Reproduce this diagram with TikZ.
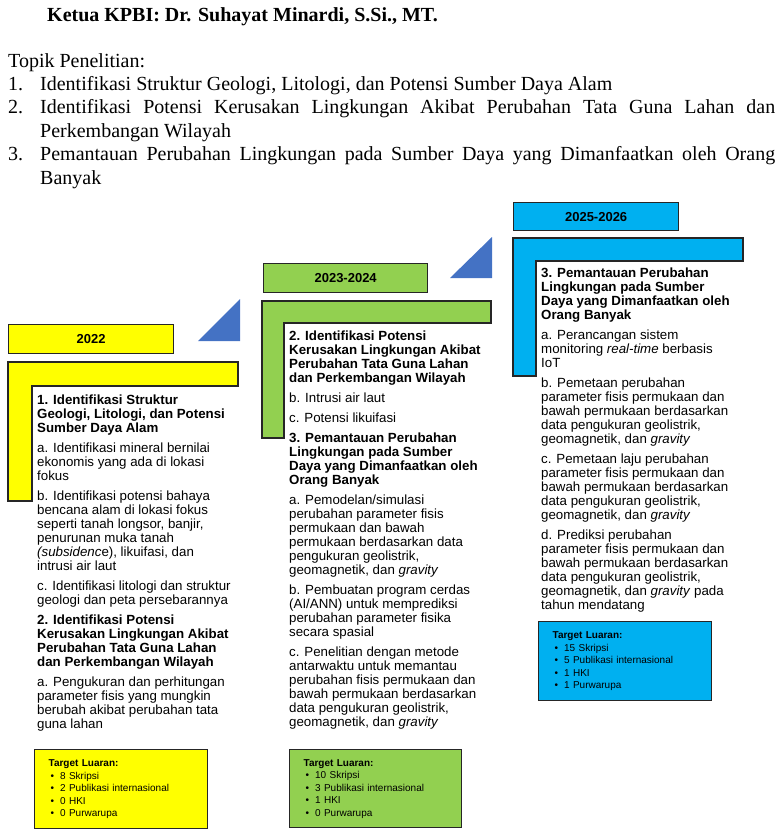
\documentclass[tikz,border=0pt]{standalone}
\usepackage{fontspec}
\setmainfont{Liberation Serif}
\newfontfamily\arial{Liberation Sans}
\usepackage{tikz}

\definecolor{kuning}{HTML}{FFFF00}
\definecolor{hijau}{HTML}{92D050}
\definecolor{biru}{HTML}{00B0F0}
\definecolor{panah}{HTML}{4472C4}

\tikzset{
  topik/.style={anchor=base west, inner sep=0pt, font=\fontsize{20}{23.5}\selectfont},
  tahun/.style={draw=black!85, line width=1.3pt, anchor=north west, inner sep=0pt,
    font=\arial\fontsize{13}{15}\selectfont\bfseries},
  bingkai/.style={draw=black!85, line width=1.3pt},
  isi/.style={anchor=north west, inner sep=0pt, align=left,
    font=\arial\fontsize{13.3}{14}\selectfont},
  luaran/.style={draw=black!85, line width=1.3pt, anchor=north west, inner xsep=14pt,
    inner ysep=0pt, text width=145pt, align=left,
    font=\arial\fontsize{10}{12.5}\selectfont},
  segitiga/.style={fill=panah}
}
\newcommand{\butir}[1]{\\\hspace*{2pt}\textbullet\hspace{6pt}#1}

\begin{document}
\begin{tikzpicture}[x=1pt, y=-1pt]
\useasboundingbox (0,0) rectangle (783,835);

% judul dan topik
\node[anchor=base west, inner sep=0pt, font=\fontsize{20}{24}\selectfont\bfseries] (ketua) at (47,21) {Ketua KPBI: Dr. Suhayat Minardi, S.Si., MT.};
\node[topik] (topikjudul) at (8,67) {Topik Penelitian:};
\node[topik] (no1) at (8,90) {1.};
\node[topik] (topik1) at (40,90) {Identifikasi Struktur Geologi, Litologi, dan Potensi Sumber Daya Alam};
\node[topik] (no2) at (8,113.5) {2.};
\node[topik] (topik2) at (40,113.5) {\makebox[735pt][s]{Identifikasi Potensi Kerusakan Lingkungan Akibat Perubahan Tata Guna Lahan dan}};
\node[topik] (topik2b) at (40,137) {Perkembangan Wilayah};
\node[topik] (no3) at (8,160.5) {3.};
\node[topik] (topik3) at (40,160.5) {\makebox[735pt][s]{Pemantauan Perubahan Lingkungan pada Sumber Daya yang Dimanfaatkan oleh Orang}};
\node[topik] (topik3b) at (40,184) {Banyak};

% panah segitiga
\fill[segitiga] (198,341) -- (240,341) -- (240,299) -- cycle;
\fill[segitiga] (450,278) -- (492,278) -- (492,237) -- cycle;

% 2022
\node[tahun, fill=kuning, minimum width=165pt, minimum height=29pt] (th2022) at (8,324) {2022};
\draw[bingkai, fill=kuning] (8,362) -- (238,362) -- (238,386) -- (32,386) -- (32,501) -- (8,501) -- cycle;
\node[isi] (isi2022) at (37,394.3) {\textbf{1. Identifikasi Struktur}\\
\textbf{Geologi, Litologi, dan Potensi}\\
\textbf{Sumber Daya Alam}\\[6pt]
a. Identifikasi mineral bernilai\\
ekonomis yang ada di lokasi\\
fokus\\[6pt]
b. Identifikasi potensi bahaya\\
bencana alam di lokasi fokus\\
seperti tanah longsor, banjir,\\
penurunan muka tanah\\
\textit{(subsidenc}e), likuifasi, dan\\
intrusi air laut\\[6pt]
c. Identifikasi litologi dan struktur\\
geologi dan peta persebarannya\\[6pt]
\textbf{2. Identifikasi Potensi}\\
\textbf{Kerusakan Lingkungan Akibat}\\
\textbf{Perubahan Tata Guna Lahan}\\
\textbf{dan Perkembangan Wilayah}\\[6pt]
a. Pengukuran dan perhitungan\\
parameter fisis yang mungkin\\
berubah akibat perubahan tata\\
guna lahan};
\node[luaran, fill=kuning, minimum height=79pt] (target2022) at (34,749) {\textbf{Target Luaran:}\butir{8 Skripsi}\butir{2 Publikasi internasional}\butir{0 HKI}\butir{0 Purwarupa}};

% 2023-2024
\node[tahun, fill=hijau, minimum width=164pt, minimum height=29pt] (th2023) at (263,263) {2023-2024};
\draw[bingkai, fill=hijau] (262,301) -- (491,301) -- (491,323) -- (284,323) -- (284,438) -- (262,438) -- cycle;
\node[isi] (isi2023) at (289,330.3) {\textbf{2. Identifikasi Potensi}\\
\textbf{Kerusakan Lingkungan Akibat}\\
\textbf{Perubahan Tata Guna Lahan}\\
\textbf{dan Perkembangan Wilayah}\\[6pt]
b. Intrusi air laut\\[6pt]
c. Potensi likuifasi\\[6pt]
\textbf{3. Pemantauan Perubahan}\\
\textbf{Lingkungan pada Sumber}\\
\textbf{Daya yang Dimanfaatkan oleh}\\
\textbf{Orang Banyak}\\[6pt]
a. Pemodelan/simulasi\\
perubahan parameter fisis\\
permukaan dan bawah\\
permukaan berdasarkan data\\
pengukuran geolistrik,\\
geomagnetik, dan \textit{gravity}\\[6pt]
b. Pembuatan program cerdas\\
(AI/ANN) untuk memprediksi\\
perubahan parameter fisika\\
secara spasial\\[6pt]
c. Penelitian dengan metode\\
antarwaktu untuk memantau\\
perubahan fisis permukaan dan\\
bawah permukaan berdasarkan\\
data pengukuran geolistrik,\\
geomagnetik, dan \textit{gravity}};
\node[luaran, fill=hijau, text width=144pt, minimum height=78pt] (target2023) at (289,749) {\textbf{Target Luaran:}\butir{10 Skripsi}\butir{3 Publikasi internasional}\butir{1 HKI}\butir{0 Purwarupa}};

% 2025-2026
\node[tahun, fill=biru, minimum width=165pt, minimum height=28pt] (th2025) at (513,202) {2025-2026};
\draw[bingkai, fill=biru] (513,238) -- (743,238) -- (743,261) -- (536,261) -- (536,376) -- (513,376) -- cycle;
\node[isi] (isi2025) at (541,267.3) {\textbf{3. Pemantauan Perubahan}\\
\textbf{Lingkungan pada Sumber}\\
\textbf{Daya yang Dimanfaatkan oleh}\\
\textbf{Orang Banyak}\\[6pt]
a. Perancangan sistem\\
monitoring \textit{real-time} berbasis\\
IoT\\[6pt]
b. Pemetaan perubahan\\
parameter fisis permukaan dan\\
bawah permukaan berdasarkan\\
data pengukuran geolistrik,\\
geomagnetik, dan \textit{gravity}\\[6pt]
c. Pemetaan laju perubahan\\
parameter fisis permukaan dan\\
bawah permukaan berdasarkan\\
data pengukuran geolistrik,\\
geomagnetik, dan \textit{gravity}\\[6pt]
d. Prediksi perubahan\\
parameter fisis permukaan dan\\
bawah permukaan berdasarkan\\
data pengukuran geolistrik,\\
geomagnetik, dan \textit{gravity} pada\\
tahun mendatang};
\node[luaran, fill=biru, minimum height=79pt] (target2025) at (538,621) {\textbf{Target Luaran:}\butir{15 Skripsi}\butir{5 Publikasi internasional}\butir{1 HKI}\butir{1 Purwarupa}};
\end{tikzpicture}
\end{document}
